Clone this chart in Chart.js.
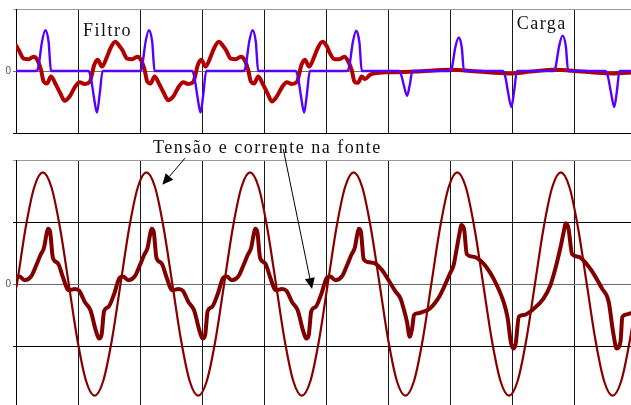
<!DOCTYPE html>
<html>
<head>
<meta charset="utf-8">
<script src="https://cdn.jsdelivr.net/npm/chart.js@4.4.1/dist/chart.umd.min.js"></script>
<style>
  html, body { margin: 0; padding: 0; background: #fff; overflow: hidden; width: 631px; height: 405px; }
  canvas { position: absolute; left: 0; top: 0; }
</style>
</head>
<body>
<canvas id="fonte" width="640" height="420"></canvas>
<canvas id="filtro" width="640" height="420"></canvas>
<script>
// Time axis in milliseconds, grid every 10 ms
const xMin = 0, xMax = 100, xStep = 10;

// Upper panel: load current ("Carga") and active-filter current ("Filtro")
const loadT = [0, 3.27, 3.6, 4.19, 4.73, 5.26, 5.64, 11.71, 12.1, 12.52, 13.06, 13.48, 13.97,
  19.98, 20.31, 20.9, 21.44, 21.97, 22.35, 28.42, 28.81, 29.23, 29.77, 30.19, 30.68,
  36.69, 37.02, 37.61, 38.15, 38.68, 39.06, 45.13, 45.52, 45.94, 46.48, 46.9, 47.39,
  53.4, 53.73, 54.32, 54.86, 55.39, 55.77, 61.75, 62.15, 62.55, 63.08, 63.5, 63.95,
  69.95, 70.3, 70.85, 71.42, 71.9, 72.25, 78.55, 78.94, 79.36, 79.9, 80.32, 80.81,
  86.66, 87.0, 87.6, 88.15, 88.68, 89.05, 95.1, 95.5, 95.95, 96.5, 96.9, 97.35, 100];
const loadV = [0, 0, 0.06, 0.47, 0.66, 0.47, 0, 0, -0.12, -0.39, -0.67, -0.39, 0,
  0, 0.06, 0.47, 0.66, 0.47, 0, 0, -0.12, -0.39, -0.67, -0.39, 0,
  0, 0.06, 0.47, 0.66, 0.47, 0, 0, -0.12, -0.39, -0.67, -0.39, 0,
  0, 0.06, 0.46, 0.65, 0.46, 0, 0, -0.07, -0.23, -0.40, -0.23, 0,
  0, 0.05, 0.38, 0.54, 0.38, 0, 0, -0.10, -0.34, -0.58, -0.34, 0,
  0, 0.05, 0.40, 0.57, 0.40, 0, 0, -0.10, -0.34, -0.58, -0.34, 0, 0];

const filterT = [0, 0.43, 1.23, 2.03, 2.84, 3.38, 4.03, 4.46, 5.0, 5.64, 6.34, 7.15, 7.84, 8.65, 9.56, 10.26, 11.02, 11.87, 12.63, 13.17, 13.87, 14.68, 15.3, 16.0,
  16.71, 17.14, 17.94, 18.74, 19.55, 20.09, 20.74, 21.17, 21.71, 22.35, 23.05, 23.86, 24.55, 25.36, 26.27, 26.97, 27.73, 28.58, 29.34, 29.88, 30.58, 31.39, 32.01, 32.71,
  33.42, 33.85, 34.65, 35.45, 36.26, 36.8, 37.45, 37.88, 38.42, 39.06, 39.76, 40.57, 41.26, 42.07, 42.98, 43.68, 44.44, 45.29, 46.05, 46.59, 47.29, 48.1, 48.72, 49.42,
  50.13, 50.56, 51.36, 52.16, 52.97, 53.51, 54.16, 54.59, 55.13, 55.77, 56.3, 57.1, 58.5, 60.1,
  64.5, 70.0, 74.5, 79.5, 83.0, 86.7, 91.2, 96.0, 100];
const filterV = [0.41, 0.34, 0.20, 0.19, 0.23, 0.19, 0.02, -0.17, -0.20, -0.09, -0.20, -0.36, -0.48, -0.41, -0.25, -0.18, -0.21, -0.18, 0.10, 0.18, 0.07, 0.23, 0.38, 0.47,
  0.40, 0.34, 0.20, 0.19, 0.23, 0.19, 0.02, -0.17, -0.20, -0.09, -0.20, -0.36, -0.47, -0.41, -0.25, -0.18, -0.21, -0.18, 0.10, 0.18, 0.07, 0.23, 0.38, 0.47,
  0.40, 0.34, 0.20, 0.19, 0.23, 0.19, 0.02, -0.17, -0.20, -0.09, -0.20, -0.36, -0.49, -0.41, -0.25, -0.18, -0.21, -0.18, 0.10, 0.18, 0.07, 0.23, 0.38, 0.47,
  0.40, 0.30, 0.19, 0.19, 0.23, 0.17, 0.01, -0.17, -0.19, -0.09, -0.13, -0.06, -0.03, -0.02,
  -0.01, 0.02, -0.01, -0.04, -0.01, 0.02, -0.01, -0.04, -0.02];

// Lower panel: source voltage and source current ("Tensão e corrente na fonte")
const voltageT = [0, 0.15, 1.54, 2.94, 4.33, 5.72, 7.11, 8.51, 9.9, 11.29, 12.68, 14.08, 15.47,
  16.86, 18.25, 19.65, 21.04, 22.43, 23.82, 25.22, 26.61, 28.0, 29.39, 30.79, 32.18,
  33.57, 34.96, 36.36, 37.75, 39.14, 40.53, 41.93, 43.32, 44.71, 46.1, 47.5, 48.89,
  50.28, 51.67, 53.07, 54.46, 55.85, 57.24, 58.64, 60.03, 61.42, 62.81, 64.21, 65.6,
  66.99, 68.38, 69.78, 71.17, 72.56, 73.95, 75.35, 76.74, 78.13, 79.52, 80.92, 82.31,
  83.7, 85.09, 86.49, 87.88, 89.27, 90.66, 92.06, 93.45, 94.84, 96.23, 97.63, 99.02, 100.41];
const voltageV = [-0.08, 0, 0.9, 1.56, 1.8, 1.56, 0.9, 0, -0.9, -1.56, -1.8, -1.56, -0.9,
  0, 0.9, 1.56, 1.8, 1.56, 0.9, 0, -0.9, -1.56, -1.8, -1.56, -0.9,
  0, 0.9, 1.56, 1.8, 1.56, 0.9, 0, -0.9, -1.56, -1.8, -1.56, -0.9,
  0, 0.9, 1.56, 1.8, 1.56, 0.9, 0, -0.9, -1.56, -1.8, -1.56, -0.9,
  0, 0.9, 1.56, 1.8, 1.56, 0.9, 0, -0.9, -1.56, -1.8, -1.56, -0.9,
  0, 0.9, 1.56, 1.8, 1.56, 0.9, 0, -0.9, -1.56, -1.8, -1.56, -0.9, 0];

const sourceT = [0, 0.55, 1.4, 2.5, 3.3, 4.0, 4.5, 4.9, 5.16, 5.5, 5.95, 6.6, 6.9, 7.6, 8.5, 9.5, 10.2, 11.1, 12.0, 12.9, 13.4, 13.8, 14.2, 14.9, 15.8,
  16.71, 17.26, 18.11, 19.21, 20.01, 20.71, 21.21, 21.61, 21.87, 22.21, 22.66, 23.31, 23.61, 24.31, 25.21, 26.21, 26.91, 27.81, 28.71, 29.61, 30.11, 30.51, 30.91, 31.61, 32.51,
  33.42, 33.97, 34.82, 35.92, 36.72, 37.42, 37.92, 38.32, 38.58, 38.92, 39.37, 40.02, 40.32, 41.02, 41.92, 42.92, 43.62, 44.52, 45.42, 46.32, 46.82, 47.22, 47.62, 48.32, 49.22,
  50.13, 50.68, 51.53, 52.63, 53.43, 54.13, 54.63, 55.03, 55.29, 55.63, 56.08, 57.0, 57.95, 59.0, 60.1, 61.2, 62.0, 62.5, 63.06, 63.5, 63.9, 64.2, 64.9, 65.6, 66.8, 68.4,
  70.0, 70.6, 71.1, 71.5, 71.85, 72.3, 72.7, 73.8, 75.4, 77.0, 78.65, 79.3, 79.8, 80.2, 80.6, 81.1, 81.9, 83.5, 85.1, 86.2,
  87.0, 87.4, 87.8, 88.3, 88.7, 89.1, 89.7, 90.7, 92.6, 94.5, 95.6, 96.3, 96.9, 97.5, 97.8, 98.5, 99.2, 100];
const sourceV = [0.10, 0.12, 0.06, 0.13, 0.31, 0.48, 0.58, 0.79, 0.89, 0.84, 0.42, 0.35, 0.31, 0.10, -0.10, -0.08, -0.11, -0.29, -0.42, -0.76, -0.88, -0.82, -0.44, -0.37, -0.17,
  0.10, 0.12, 0.06, 0.13, 0.31, 0.48, 0.58, 0.79, 0.89, 0.84, 0.42, 0.35, 0.31, 0.10, -0.10, -0.08, -0.11, -0.29, -0.42, -0.76, -0.88, -0.82, -0.44, -0.37, -0.17,
  0.10, 0.12, 0.06, 0.13, 0.31, 0.48, 0.58, 0.79, 0.89, 0.84, 0.42, 0.35, 0.31, 0.10, -0.10, -0.08, -0.11, -0.29, -0.42, -0.76, -0.88, -0.82, -0.44, -0.37, -0.17,
  0.10, 0.12, 0.06, 0.13, 0.31, 0.48, 0.58, 0.79, 0.89, 0.84, 0.40, 0.35, 0.33, 0.23, 0.06, -0.12, -0.23, -0.39, -0.61, -0.85, -0.71, -0.50, -0.47, -0.45, -0.39, -0.18,
  0.17, 0.31, 0.58, 0.80, 0.95, 0.87, 0.48, 0.44, 0.33, 0.09, -0.29, -0.55, -0.93, -1.04, -0.96, -0.53, -0.50, -0.40, -0.23, -0.02,
  0.25, 0.41, 0.58, 0.82, 0.98, 0.90, 0.48, 0.44, 0.25, -0.07, -0.29, -0.77, -1.04, -0.93, -0.53, -0.49, -0.47, -0.45];

// Labels and arrows, anchored in data units (ms, value)
const topLabels = [
  { text: 'Filtro', at: [10.8, 0.565] },
  { text: 'Carga', at: [80.75, 0.67] }
];
const bottomLabel = { text: 'Tensão e corrente na fonte', at: [22.1, 2.12] };
const arrows = [
  { from: [27.26, 2.03], to: [23.6, 1.60] },
  { from: [43.1, 2.18], to: [47.75, -0.08] }
];

const pairs = (xs, ys) => xs.map((x, i) => ({ x, y: ys[i] }));

const labelFont = '18px "Liberation Serif", "Times New Roman", serif';

function xScale() {
  return {
    type: 'linear', min: xMin, max: xMax,
    ticks: { display: false, stepSize: xStep },
    grid: { color: '#1a1a1a', lineWidth: 1, drawTicks: false },
    border: { display: true, color: '#000', width: 1 },
    afterFit: s => { s.height = 0; }
  };
}
function yScale(min, max) {
  return {
    min, max,
    ticks: {
      stepSize: 1,
      callback: v => (v === 0 ? '0' : ''),
      color: '#555',
      font: { family: '"Liberation Sans", Arial, sans-serif', size: 10 },
      padding: 2
    },
    grid: {
      tickLength: 3,
      lineWidth: 1,
      color: c => (c.tick && c.tick.value === max ? '#9a9a9a' : c.tick && c.tick.value === 0 ? '#6e6e6e' : '#000')
    },
    border: { display: true, color: '#000', width: 1 },
    afterFit: s => { s.width = 16; }
  };
}

function drawText(ctx, chart, item) {
  const x = chart.scales.x.getPixelForValue(item.at[0]);
  const y = chart.scales.y.getPixelForValue(item.at[1]);
  ctx.save();
  ctx.font = labelFont;
  ctx.letterSpacing = '1.5px';
  ctx.fillStyle = '#111';
  ctx.textAlign = 'left';
  ctx.textBaseline = 'alphabetic';
  ctx.fillText(item.text, x, y);
  ctx.restore();
}

const topLabelsPlugin = {
  id: 'topLabels',
  afterDatasetsDraw(chart) {
    topLabels.forEach(l => drawText(chart.ctx, chart, l));
  }
};

const annotationPlugin = {
  id: 'sourceAnnotations',
  afterDatasetsDraw(chart) {
    const ctx = chart.ctx, sx = chart.scales.x, sy = chart.scales.y;
    drawText(ctx, chart, bottomLabel);
    arrows.forEach(a => {
      const x0 = sx.getPixelForValue(a.from[0]), y0 = sy.getPixelForValue(a.from[1]);
      const x1 = sx.getPixelForValue(a.to[0]), y1 = sy.getPixelForValue(a.to[1]);
      const ang = Math.atan2(y1 - y0, x1 - x0);
      const len = 11, half = 5;
      const bx = x1 - len * Math.cos(ang), by = y1 - len * Math.sin(ang);
      ctx.save();
      ctx.strokeStyle = '#000';
      ctx.lineWidth = 1;
      ctx.beginPath();
      ctx.moveTo(x0, y0);
      ctx.lineTo(bx, by);
      ctx.stroke();
      ctx.fillStyle = '#000';
      ctx.beginPath();
      ctx.moveTo(x1, y1);
      ctx.lineTo(bx + half * Math.sin(ang), by - half * Math.cos(ang));
      ctx.lineTo(bx - half * Math.sin(ang), by + half * Math.cos(ang));
      ctx.closePath();
      ctx.fill();
      ctx.restore();
    });
  }
};

const common = {
  responsive: false,
  animation: false,
  events: [],
  plugins: { legend: { display: false }, tooltip: { enabled: false } },
  elements: { point: { radius: 0 }, line: { cubicInterpolationMode: 'monotone', borderCapStyle: 'round', borderJoinStyle: 'round' } }
};

new Chart(document.getElementById('filtro'), {
  type: 'line',
  data: {
    datasets: [
      { label: 'Carga', data: pairs(loadT, loadV), borderColor: '#5800ff', borderWidth: 2.4, fill: false },
      { label: 'Filtro', data: pairs(filterT, filterV), borderColor: '#b00000', borderWidth: 4, fill: false }
    ]
  },
  options: Object.assign({}, common, {
    layout: { padding: { top: 9, right: 4, bottom: 287, left: 0 } },
    scales: { x: xScale(), y: yScale(-1, 1) }
  }),
  plugins: [topLabelsPlugin]
});

new Chart(document.getElementById('fonte'), {
  type: 'line',
  data: {
    datasets: [
      { label: 'Tensão', data: pairs(voltageT, voltageV), borderColor: '#860000', borderWidth: 2.2, fill: false },
      { label: 'Corrente', data: pairs(sourceT, sourceV), borderColor: '#800000', borderWidth: 4, fill: false }
    ]
  },
  options: Object.assign({}, common, {
    layout: { padding: { top: 160, right: 4, bottom: 12, left: 0 } },
    scales: { x: xScale(), y: yScale(-2, 2) }
  }),
  plugins: [annotationPlugin]
});
</script>
</body>
</html>
